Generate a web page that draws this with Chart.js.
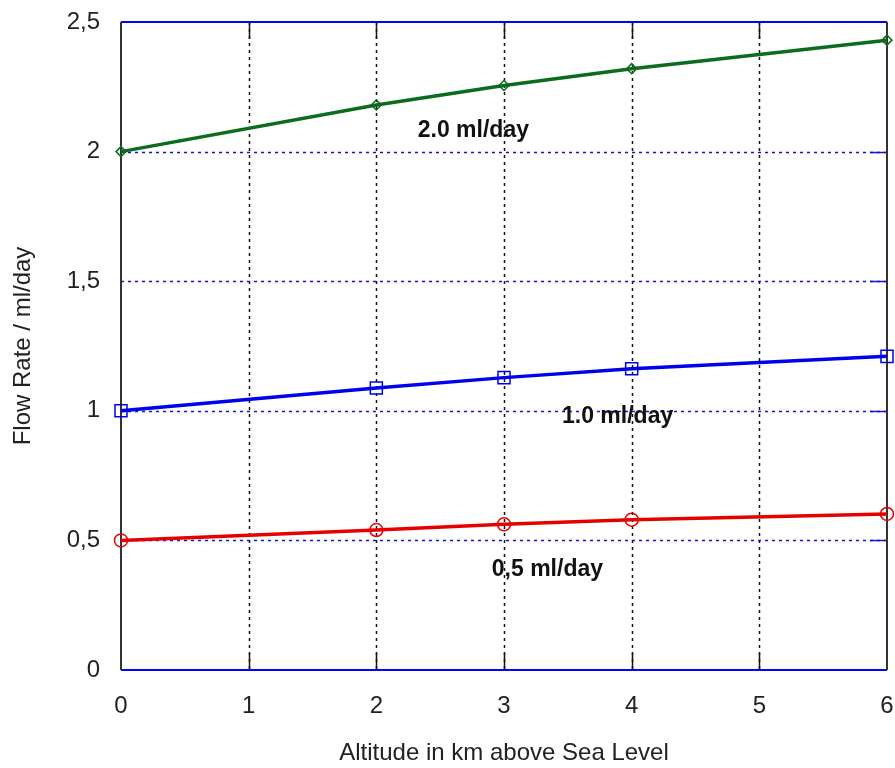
<!DOCTYPE html>
<html>
<head>
<meta charset="utf-8">
<script src="https://cdn.jsdelivr.net/npm/chart.js@4/dist/chart.umd.min.js"></script>
<style>
html,body{margin:0;padding:0;background:#fff;}
#wrap{width:895px;height:768px;}
</style>
</head>
<body>
<div id="wrap"><canvas id="c" width="895" height="768"></canvas></div>
<script>
const altitudes = [0, 2, 3, 4, 6];
const flow20 = [2.0, 2.18, 2.255, 2.32, 2.43];
const flow10 = [1.0, 1.088, 1.128, 1.162, 1.21];
const flow05 = [0.5, 0.54, 0.562, 0.58, 0.602];
const xTicks = [0, 1, 2, 3, 4, 5, 6];
const yTicks = [0, 0.5, 1, 1.5, 2, 2.5];
const yTickLabels = ['0', '0,5', '1', '1,5', '2', '2,5'];
const seriesLabels = ['2.0 ml/day', '1.0 ml/day', '0,5 ml/day'];
const labelAnchorX = [2.76, 3.89, 3.34];
const labelAnchorY = [2.08, 0.976, 0.386];

const FONT = "'Liberation Sans', Arial, sans-serif";

function pts(vals){ return altitudes.map((a,i)=>({x:a, y:vals[i]})); }

const frameGrid = {
  id:'frameGrid',
  beforeDatasetsDraw(chart){
    const {ctx, chartArea:a, scales:{x, y}} = chart;
    ctx.save();
    ctx.lineWidth = 1.5;
    ctx.strokeStyle = '#111';
    xTicks.forEach(v=>{
      if (v===0 || v===6) return;
      const px = Math.round(x.getPixelForValue(v))+0.5;
      ctx.setLineDash([3,4]);
      ctx.beginPath(); ctx.moveTo(px, a.top); ctx.lineTo(px, a.bottom); ctx.stroke();
      ctx.setLineDash([]);
      ctx.beginPath(); ctx.moveTo(px, a.top); ctx.lineTo(px, a.top+17); ctx.stroke();
      ctx.beginPath(); ctx.moveTo(px, a.bottom-17); ctx.lineTo(px, a.bottom); ctx.stroke();
    });
    ctx.strokeStyle = '#1010e0';
    yTicks.forEach(v=>{
      if (v===0 || v===2.5) return;
      const py = Math.round(y.getPixelForValue(v))+0.5;
      ctx.setLineDash([3,4]);
      ctx.beginPath(); ctx.moveTo(a.left, py); ctx.lineTo(a.right, py); ctx.stroke();
      ctx.setLineDash([]);
      ctx.beginPath(); ctx.moveTo(a.right-17, py); ctx.lineTo(a.right, py); ctx.stroke();
    });
    ctx.setLineDash([]);
    ctx.lineWidth = 2;
    ctx.strokeStyle = '#0000ff';
    ctx.beginPath(); ctx.moveTo(a.left, a.top); ctx.lineTo(a.right, a.top); ctx.stroke();
    ctx.beginPath(); ctx.moveTo(a.left, a.bottom); ctx.lineTo(a.right, a.bottom); ctx.stroke();
    ctx.strokeStyle = '#333';
    ctx.beginPath(); ctx.moveTo(a.left, a.top); ctx.lineTo(a.left, a.bottom); ctx.stroke();
    ctx.beginPath(); ctx.moveTo(a.right, a.top); ctx.lineTo(a.right, a.bottom); ctx.stroke();
    ctx.restore();
  },
  afterDatasetsDraw(chart){
    const {ctx, scales:{x, y}} = chart;
    ctx.save();
    ctx.font = "bold 23px " + FONT;
    ctx.fillStyle = '#111';
    ctx.textAlign = 'center';
    ctx.textBaseline = 'middle';
    seriesLabels.forEach((t,i)=>{
      ctx.fillText(t, x.getPixelForValue(labelAnchorX[i]), y.getPixelForValue(labelAnchorY[i]));
    });
    ctx.restore();
  }
};

new Chart(document.getElementById('c'), {
  type:'line',
  data:{
    datasets:[
      {label:seriesLabels[0], data:pts(flow20), borderColor:'#0b6b1e', borderWidth:3.5,
       pointStyle:'rectRot', pointRadius:5, pointBorderWidth:1.5, pointBackgroundColor:'rgba(0,0,0,0)', pointBorderColor:'#0b6b1e'},
      {label:seriesLabels[1], data:pts(flow10), borderColor:'#0000ee', borderWidth:3.5,
       pointStyle:'rect', pointRadius:8.5, pointBorderWidth:1.5, pointBackgroundColor:'rgba(0,0,0,0)', pointBorderColor:'#0000ee'},
      {label:seriesLabels[2], data:pts(flow05), borderColor:'#e60000', borderWidth:3.5,
       pointStyle:'circle', pointRadius:6.5, pointBorderWidth:1.5, pointBackgroundColor:'rgba(0,0,0,0)', pointBorderColor:'#e60000'}
    ]
  },
  options:{
    responsive:false,
    animation:false,
    clip:false,
    layout:{autoPadding:false, padding:{top:22, right:8, left:9, bottom:0}},
    plugins:{legend:{display:false}, tooltip:{enabled:false}},
    scales:{
      x:{
        type:'linear', min:0, max:6,
        afterFit(s){ s.height = 98; s.paddingLeft = 0; s.paddingRight = 0; },
        afterBuildTicks(s){ s.ticks = xTicks.map(v=>({value:v})); },
        grid:{display:false, drawTicks:false},
        border:{display:false},
        ticks:{padding:22, color:'#222', font:{family:FONT, size:24}, maxRotation:0},
        title:{display:true, text:'Altitude in km above Sea Level', color:'#222', font:{family:FONT, size:24}, padding:0}
      },
      y:{
        type:'linear', min:0, max:2.5,
        afterFit(s){ s.width = 112; s.paddingTop = 0; s.paddingBottom = 0; },
        afterBuildTicks(s){ s.ticks = yTicks.map(v=>({value:v})); },
        grid:{display:false, drawTicks:false},
        border:{display:false},
        ticks:{padding:21, color:'#222', font:{family:FONT, size:24},
          callback:(v)=>{ const i = yTicks.indexOf(v); return i>=0 ? yTickLabels[i] : ''; }},
        title:{display:true, text:'Flow Rate / ml/day', color:'#222', font:{family:FONT, size:24}, padding:0}
      }
    }
  },
  plugins:[frameGrid]
});
</script>
</body>
</html>
